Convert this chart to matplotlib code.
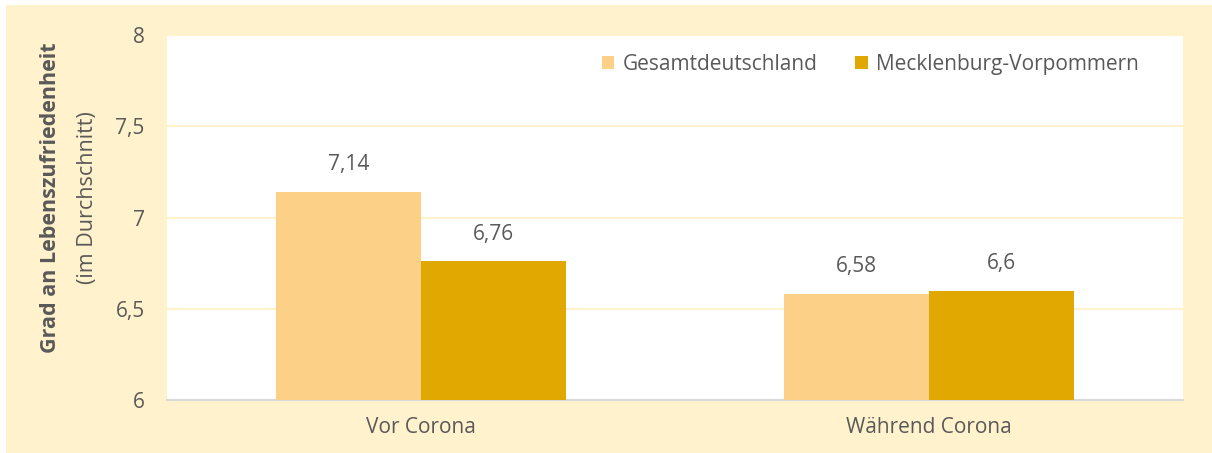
import numpy as np
import matplotlib.pyplot as plt
import matplotlib.patches as mpatches

# data
categories = ['Vor Corona', 'Während Corona']
series_names = ['Gesamtdeutschland', 'Mecklenburg-Vorpommern']
gesamt = [7.14, 6.58]
mv = [6.76, 6.6]
yticks = [6, 6.5, 7, 7.5, 8]

c_light = '#FDD087'
c_dark = '#E0A800'
cream = '#FFF2CC'
txt = '#595959'

plt.rcParams['font.family'] = ['Open Sans', 'DejaVu Sans']

fig = plt.figure(figsize=(12.12, 4.53), dpi=100)
fig.patch.set_facecolor(cream)
# white margins (top strip where the caption was cut off, thin left strip)
fig.add_artist(mpatches.Rectangle((0, 1 - 5/453), 1, 5/453, transform=fig.transFigure,
                                  facecolor='white', edgecolor='none'))
fig.add_artist(mpatches.Rectangle((0, 0), 6/1212, 1, transform=fig.transFigure,
                                  facecolor='white', edgecolor='none'))

ax = fig.add_axes([167/1212, 1 - 400/453, (1183 - 167)/1212, (400 - 35)/453])
ax.set_facecolor('white')

x = np.arange(len(categories))
w = 0.285
b1 = ax.bar(x - w/2, gesamt, w, color=c_light, label=series_names[0], zorder=3)
b2 = ax.bar(x + w/2, mv, w, color=c_dark, label=series_names[1], zorder=3)

def fmt(v):
    return ('%g' % v).replace('.', ',')

for bars, vals in [(b1, gesamt), (b2, mv)]:
    for r, v in zip(bars, vals):
        ax.annotate(fmt(v), (r.get_x() + r.get_width()/2, v), xytext=(0, 12),
                    textcoords='offset points', ha='center', va='bottom',
                    fontsize=15, color=txt)

ax.set_xlim(-0.5, 1.5)
ax.set_ylim(6, 8)
ax.set_yticks(yticks)
ax.set_yticklabels([fmt(v) for v in yticks])
ax.set_xticks(x)
ax.set_xticklabels(categories)
ax.tick_params(axis='both', length=0, labelsize=15, labelcolor=txt)
ax.tick_params(axis='y', pad=16)
ax.tick_params(axis='x', pad=12)
ax.grid(axis='y', color=cream, linewidth=1.5, zorder=0)
for s in ['top', 'right', 'left']:
    ax.spines[s].set_visible(False)
ax.spines['bottom'].set_color('#D9D9D9')
ax.spines['bottom'].set_linewidth(1.5)

fig.text(51/1212, 1 - 198/453, 'Grad an Lebenszufriedenheit', rotation=90,
         ha='center', va='center', fontsize=15.5, fontweight='bold', color=txt)
fig.text(87/1212, 1 - 198/453, '(im Durchschnitt)', rotation=90,
         ha='center', va='center', fontsize=15.5, color=txt)

ax.legend(loc='upper right', bbox_to_anchor=(0.975, 1.0), ncol=2, frameon=False,
          fontsize=15, labelcolor=txt, handlelength=0.6, handleheight=0.6,
          handletextpad=0.4, columnspacing=1.8)

fig.savefig('out.png', dpi=100, facecolor=fig.get_facecolor())
